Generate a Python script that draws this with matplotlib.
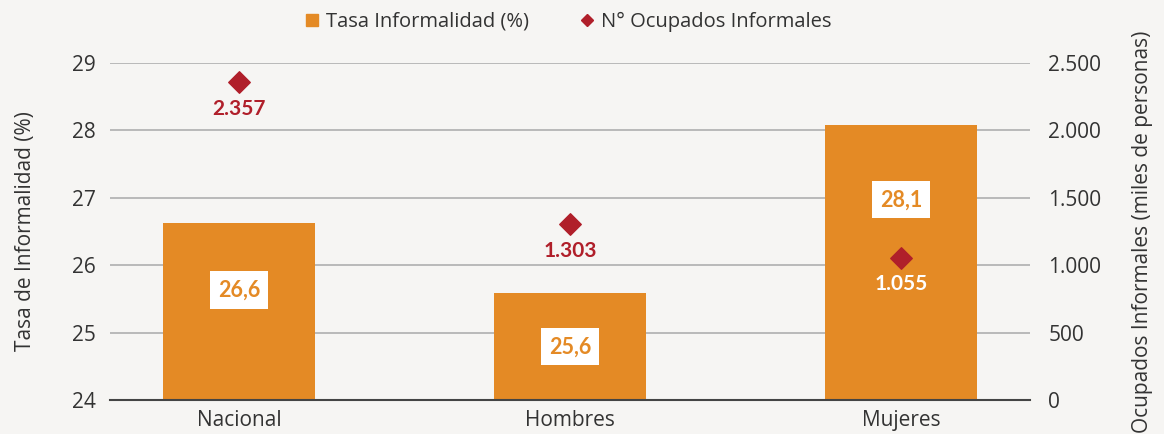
import matplotlib as mpl
import matplotlib.pyplot as plt
from matplotlib.lines import Line2D

mpl.rcParams.update({
    "font.family": ["Open Sans", "DejaVu Sans"],
})

BG = "#f6f5f3"
ORANGE = "#e48a25"
RED = "#b01f2a"
TEXT = "#333333"
GRID = "#b9b9b9"
BOLD = ["Lato", "DejaVu Sans"]

categories = ["Nacional", "Hombres", "Mujeres"]
tasa = [26.63, 25.58, 28.08]
tasa_labels = ["26,6", "25,6", "28,1"]
ocupados = [2357, 1303, 1055]
ocupados_labels = ["2.357", "1.303", "1.055"]

# where the rate label box sits inside each bar (left axis units)
tasa_label_y = [25.63, 24.79, 26.97]
ocup_label_colors = [RED, RED, "white"]


def thousands(v, _=None):
    return f"{int(v):,}".replace(",", ".")


fig = plt.figure(figsize=(11.64, 4.34), dpi=100, facecolor=BG)
ax = fig.add_axes([0.0945, 0.0783, 0.7905, 0.7767])
ax.set_facecolor(BG)
ax2 = ax.twinx()

xs = list(range(len(categories)))
ax.bar(xs, [t - 24 for t in tasa], bottom=24, width=0.46, color=ORANGE, zorder=2)
ax.set_ylim(24, 29)
ax.set_xlim(-0.39, 2.39)
ax.set_yticks(range(24, 30))
ax.yaxis.grid(True, color=GRID, linewidth=1.4, zorder=0)
ax.set_axisbelow(True)
ax.set_xticks(xs)
ax.set_xticklabels(categories, fontsize=15, color=TEXT)
ax.tick_params(axis="both", length=0, labelsize=15, labelcolor=TEXT, pad=7)
ax.tick_params(axis="y", pad=10)
for s in ["top", "right", "left"]:
    ax.spines[s].set_visible(False)
ax.spines["bottom"].set_color("#444444")
ax.spines["bottom"].set_linewidth(1.5)
ax.set_ylabel("Tasa de Informalidad (%)", fontsize=15, color=TEXT, labelpad=26)

for x, yl, lab in zip(xs, tasa_label_y, tasa_labels):
    ax.text(x, yl, lab, ha="center", va="center", fontsize=15.5, fontweight="bold",
            family=BOLD, color=ORANGE, zorder=4,
            bbox=dict(boxstyle="square,pad=0.38", facecolor="white", edgecolor="none"))

ax2.scatter(xs, ocupados, marker="D", s=120, color=RED, zorder=5)
ax2.set_ylim(0, 2500)
ax2.set_yticks(range(0, 2501, 500))
ax2.yaxis.set_major_formatter(mpl.ticker.FuncFormatter(thousands))
ax2.tick_params(axis="y", length=0, labelsize=15, labelcolor=TEXT, pad=13)
for s in ["top", "right", "left", "bottom"]:
    ax2.spines[s].set_visible(False)
ax2.set_ylabel("Ocupados Informales (miles de personas)", fontsize=15, color=TEXT, labelpad=22)

for x, y, lab, c in zip(xs, ocupados, ocupados_labels, ocup_label_colors):
    ax2.annotate(lab, (x, y), xytext=(0, -19), textcoords="offset points",
                 ha="center", va="center", fontsize=15, fontweight="bold",
                 family=BOLD, color=c, zorder=6)

handles = [
    Line2D([], [], marker="s", linestyle="none", color=ORANGE, markersize=8,
           label="Tasa Informalidad (%)"),
    Line2D([], [], marker="D", linestyle="none", color=RED, markersize=6,
           label="N° Ocupados Informales"),
]
fig.legend(handles=handles, loc="center", bbox_to_anchor=(0.487, 0.95), ncol=2,
           frameon=False, fontsize=14.5, handletextpad=0.2, columnspacing=2.4,
           handlelength=1.0, labelcolor=TEXT)

fig.savefig("out.png", dpi=100, facecolor=BG)
